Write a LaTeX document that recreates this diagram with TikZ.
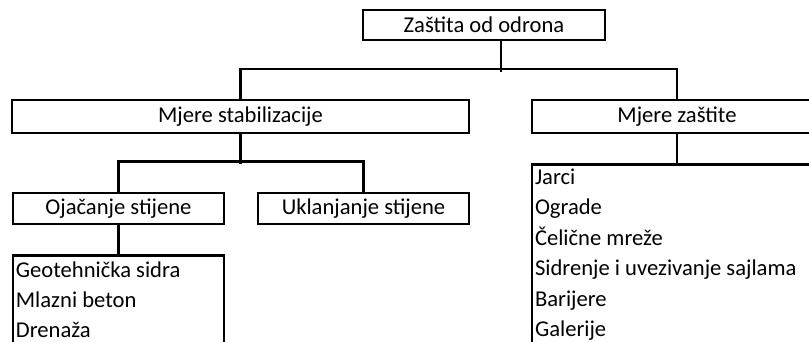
\documentclass[tikz,border=0pt]{standalone}
\usepackage{fontspec}
\setmainfont{Carlito}
\begin{document}
\begin{tikzpicture}[x=0.5pt, y=-0.5pt, font=\fontsize{11.3}{13}\selectfont, line width=1.3pt, line join=miter,
    box/.style={draw, rectangle, inner sep=0pt, minimum height=15.5pt},
    item/.style={anchor=base west, inner sep=0pt}]
    \useasboundingbox (0,0) rectangle (809,342);
    \clip (0,0) rectangle (809,342);
    % upper levels
    \node[box, minimum width=121pt, minimum height=15pt] (top) at (484,25) {Zaštita od odrona};
    \node[box, minimum width=228.5pt, minimum height=16.5pt] (stab) at (240.5,116.5) {Mjere stabilizacije};
    \node[box, minimum width=145pt, minimum height=16.5pt] (zast) at (677,116.5) {Mjere zaštite};
    \node[box, minimum width=105.5pt] (ojac) at (118.4,208.5) {Ojačanje stijene};
    \node[box, minimum width=105.5pt] (uklan) at (363.5,208.5) {Uklanjanje stijene};
    % lists
    \node[box, anchor=north, minimum width=105.5pt, minimum height=60pt] (ojaclist) at (118.4,254) {};
    \node[box, anchor=north, minimum width=145pt, minimum height=100pt] (zastlist) at (677,163) {};
    \foreach \t [count=\i from 0] in {Geotehnička sidra, Mlazni beton, Drenaža}
        \node[item] (ojacitem\i) at ([shift={(3,23+30*\i)}]ojaclist.north west) {\t};
    \foreach \t [count=\i from 0] in {Jarci, Ograde, Čelične mreže, Sidrenje i uvezivanje sajlama, Barijere, Galerije}
        \node[item] (zastitem\i) at ([shift={(3,21.5+30.4*\i)}]zastlist.north west) {\t};
    % connectors
    \draw ([xshift=8.5pt]top.south) -- ++(0,30.5);
    \draw (stab.north) -- ++(0,-29.5) -| (zast.north);
    \draw (stab.south) -- ++(0,30);
    \draw (ojac.north) -- ++(0,-30) -| (uklan.north);
    \draw (ojac.south) -- (ojaclist.north);
    \draw (zast.south) -- (zastlist.north);
\end{tikzpicture}
\end{document}
